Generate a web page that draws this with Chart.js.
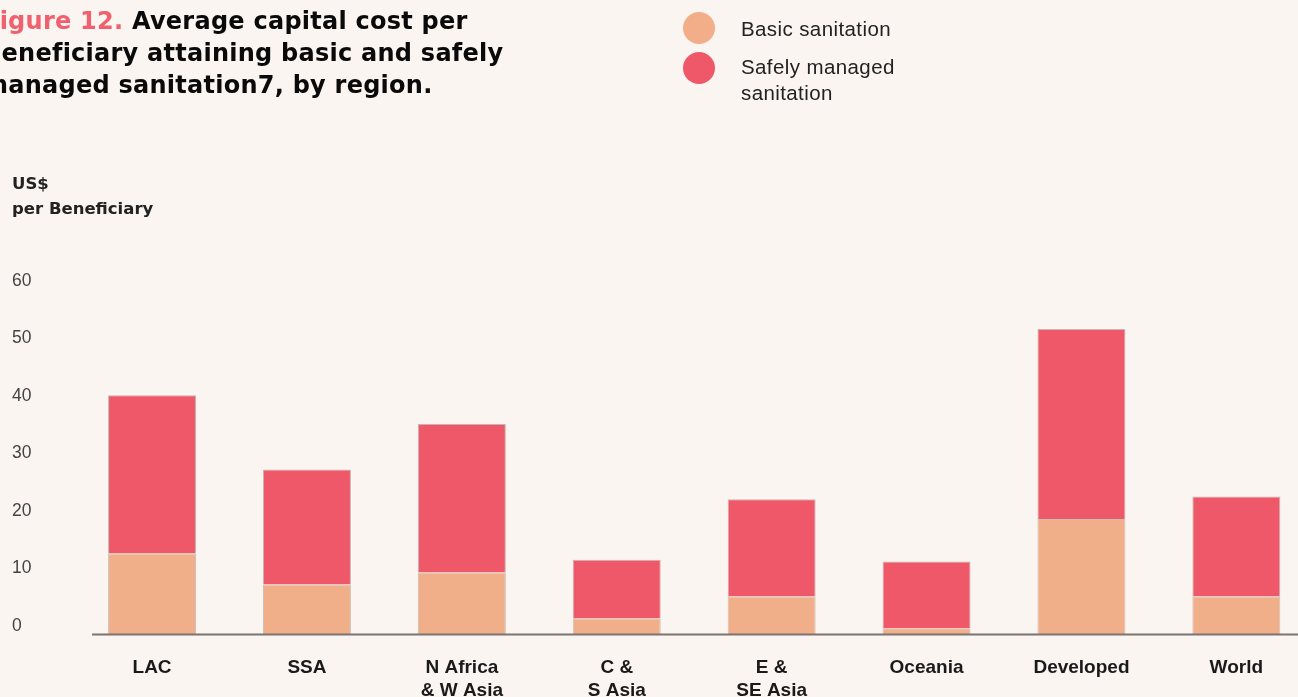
<!DOCTYPE html>
<html>
<head>
<meta charset="utf-8">
<script src="https://cdn.jsdelivr.net/npm/chart.js@4"></script>
<style>
  html, body { margin: 0; padding: 0; background: #FAF5F1; overflow: hidden; width: 1298px; height: 697px; }
  #wrap { position: relative; width: 1298px; height: 697px; overflow: hidden; }
  canvas { position: absolute; left: 0; top: 0; }
  .title { position: absolute; left: -17px; top: 5px; font-family: "DejaVu Sans", sans-serif; font-weight: bold; font-size: 24px; line-height: 32px; color: #0a0a0a; white-space: nowrap; z-index: 2; letter-spacing: 0.25px; }
  .title .fig { color: #F0606E; }
  .ytitle { position: absolute; left: 12px; top: 171px; font-family: "DejaVu Sans", sans-serif; font-weight: bold; font-size: 16.5px; line-height: 25px; color: #222; z-index: 2; }
  .lg-dot { position: absolute; width: 32px; height: 32px; border-radius: 50%; z-index: 2; }
  .lg-text { position: absolute; left: 741px; font-family: "Liberation Sans", Arial, sans-serif; font-size: 20.5px; line-height: 26px; color: #222; z-index: 2; letter-spacing: 0.4px; }
</style>
</head>
<body>
<div id="wrap">
  <canvas id="c" width="1340" height="697" style="width:1340px;height:697px"></canvas>
  <div class="title"><span class="fig">Figure 12.</span> Average capital cost per<br>Beneficiary attaining basic and safely<br>managed sanitation7, by region.</div>
  <div class="ytitle">US$<br>per Beneficiary</div>
  <div class="lg-dot" style="left:683px; top:12px; background:#F2AE88;"></div>
  <div class="lg-text" style="top:16px;">Basic sanitation</div>
  <div class="lg-dot" style="left:683px; top:52px; background:#EF5869;"></div>
  <div class="lg-text" style="top:54px;">Safely managed<br>sanitation</div>
</div>
<script>
const categories = ["LAC", ["SSA"], ["N Africa", "& W Asia"], ["C &", "S Asia"], ["E &", "SE Asia"], "Oceania", "Developed", "World"];
const basicSanitation = [14.0, 8.6, 10.7, 2.7, 6.5, 1.0, 20.0, 6.5];
const safelyManagedExtra = [27.5, 20.0, 25.8, 10.2, 16.9, 11.6, 33.0, 17.4];
const yTicks = [0, 10, 20, 30, 40, 50, 60];

const baselinePlugin = {
  id: 'baseline',
  afterDatasetsDraw(chart) {
    const x = chart.scales.x, y = chart.scales.y;
    const ctx = chart.ctx;
    const y0 = y.getPixelForValue(0) + 0.5;
    const xStart = x.getPixelForValue(0) - 60;
    ctx.save();
    ctx.strokeStyle = '#7b7472';
    ctx.lineWidth = 2;
    ctx.beginPath();
    ctx.moveTo(xStart, y0);
    ctx.lineTo(chart.width, y0);
    ctx.stroke();
    ctx.restore();
  }
};

new Chart(document.getElementById('c'), {
  type: 'bar',
  data: {
    labels: categories,
    datasets: [
      { label: 'Basic sanitation', data: basicSanitation, backgroundColor: '#F0AF88', borderColor: 'rgba(150,125,120,0.45)', borderWidth: 1 },
      { label: 'Safely managed sanitation', data: safelyManagedExtra, backgroundColor: '#EE5868', borderColor: 'rgba(150,115,115,0.5)', borderWidth: 1 }
    ]
  },
  options: {
    responsive: false,
    devicePixelRatio: 1,
    animation: false,
    categoryPercentage: 1,
    barPercentage: 0.568,
    layout: { padding: { left: 12, top: 288.7, right: 26.2, bottom: 0 } },
    plugins: { legend: { display: false }, title: { display: false }, tooltip: { enabled: false } },
    scales: {
      x: {
        stacked: true,
        grid: { display: false, drawTicks: false },
        border: { display: false },
        ticks: {
          padding: 21.5,
          color: '#1a1a1a',
          maxRotation: 0,
          autoSkip: false,
          font: { family: 'Liberation Sans, Arial, sans-serif', size: 19, weight: 'bold', lineHeight: 1.25 }
        },
        afterFit(scale) { scale.height = 63; }
      },
      y: {
        stacked: true,
        min: 0,
        max: 60,
        grid: { display: false, drawTicks: false },
        border: { display: false },
        afterBuildTicks(scale) { scale.ticks = yTicks.map(v => ({ value: v })); },
        ticks: {
          crossAlign: 'far',
          labelOffset: -8,
          color: '#444',
          font: { family: 'Liberation Sans, Arial, sans-serif', size: 17.5 }
        },
        afterFit(scale) { scale.width = 62.6; }
      }
    }
  },
  plugins: [baselinePlugin]
});
</script>
</body>
</html>
